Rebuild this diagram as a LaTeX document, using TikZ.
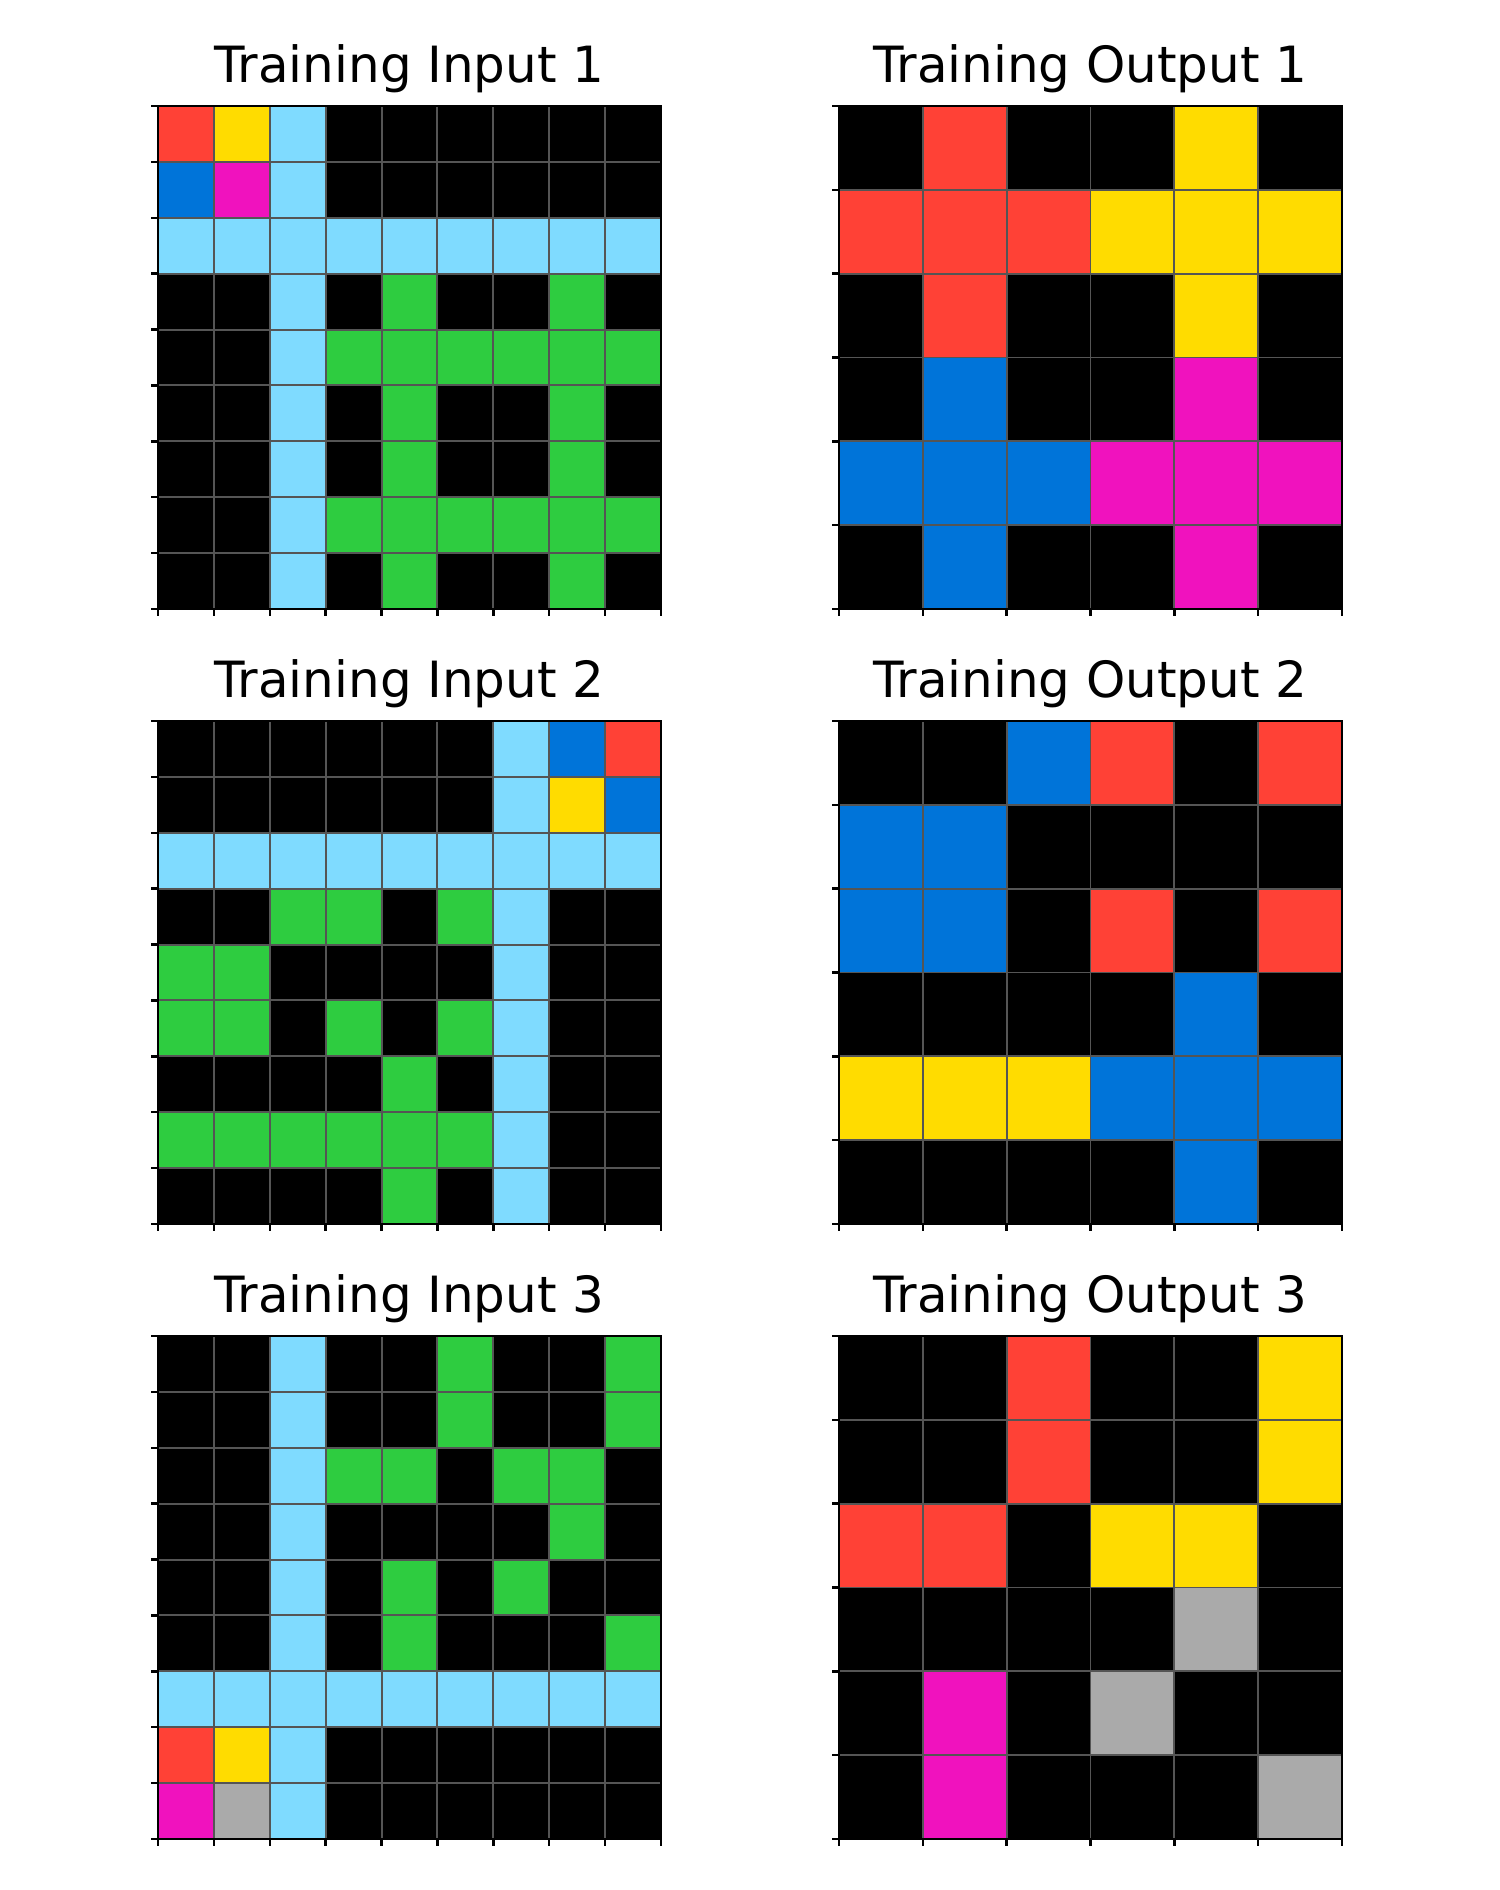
\documentclass[tikz,border=0pt]{standalone}
\usepackage{fontspec}
\setmainfont{DejaVu Sans}
\definecolor{cK}{HTML}{000000}
\definecolor{cB}{HTML}{0074D9}
\definecolor{cR}{HTML}{FF4136}
\definecolor{cG}{HTML}{2ECC40}
\definecolor{cY}{HTML}{FFDC00}
\definecolor{cA}{HTML}{AAAAAA}
\definecolor{cM}{HTML}{F012BE}
\definecolor{cC}{HTML}{7FDBFF}
\definecolor{gridgray}{HTML}{555555}
\tikzset{
  gridline/.style={draw=gridgray, line width=0.55pt},
  tickline/.style={draw=black, line width=0.7pt},
  framebox/.style={draw=black, line width=0.8pt},
  titletext/.style={anchor=base, inner sep=0pt, font=\fontsize{14.2}{17}\selectfont}
}
\newcommand{\arcgrid}[5]{%
  \pgfmathsetmacro{\arccell}{#4/#3}%
  \foreach \grow [count=\gi from 0] in {#5}{%
    \foreach \gcol [count=\gj from 0] in \grow {%
      \fill[c\gcol] ({#1+\gj*\arccell},{#2+\gi*\arccell}) rectangle ++(\arccell,\arccell);
    }%
  }%
  \foreach \gk in {0,...,#3}{%
    \draw[gridline] ({#1+\gk*\arccell},#2) -- ++(0,#4);
    \draw[gridline] (#1,{#2+\gk*\arccell}) -- ++(#4,0);
    \draw[tickline] ({#1+\gk*\arccell},{#2+#4}) -- ++(0,7);
    \draw[tickline] (#1,{#2+\gk*\arccell}) -- ++(-7,0);
  }%
  \draw[framebox] (#1,#2) rectangle ++(#4,#4);
}
\begin{document}
\begin{tikzpicture}[x=0.01cm, y=-0.01cm]
\fill[white] (0,0) rectangle (1500,1890);
\useasboundingbox (0,0) rectangle (1500,1890);

% Row 1
\node[titletext] (ti1) at (409.5,82) {Training Input 1};
\node[titletext] (to1) at (1090.5,82) {Training Output 1};
\arcgrid{158}{106}{9}{503}{
 {R,Y,C,K,K,K,K,K,K},
 {B,M,C,K,K,K,K,K,K},
 {C,C,C,C,C,C,C,C,C},
 {K,K,C,K,G,K,K,G,K},
 {K,K,C,G,G,G,G,G,G},
 {K,K,C,K,G,K,K,G,K},
 {K,K,C,K,G,K,K,G,K},
 {K,K,C,G,G,G,G,G,G},
 {K,K,C,K,G,K,K,G,K}}
\arcgrid{839}{106}{6}{503}{
 {K,R,K,K,Y,K},
 {R,R,R,Y,Y,Y},
 {K,R,K,K,Y,K},
 {K,B,K,K,M,K},
 {B,B,B,M,M,M},
 {K,B,K,K,M,K}}

% Row 2
\node[titletext] (ti2) at (409.5,697) {Training Input 2};
\node[titletext] (to2) at (1090.5,697) {Training Output 2};
\arcgrid{158}{721}{9}{503}{
 {K,K,K,K,K,K,C,B,R},
 {K,K,K,K,K,K,C,Y,B},
 {C,C,C,C,C,C,C,C,C},
 {K,K,G,G,K,G,C,K,K},
 {G,G,K,K,K,K,C,K,K},
 {G,G,K,G,K,G,C,K,K},
 {K,K,K,K,G,K,C,K,K},
 {G,G,G,G,G,G,C,K,K},
 {K,K,K,K,G,K,C,K,K}}
\arcgrid{839}{721}{6}{503}{
 {K,K,B,R,K,R},
 {B,B,K,K,K,K},
 {B,B,K,R,K,R},
 {K,K,K,K,B,K},
 {Y,Y,Y,B,B,B},
 {K,K,K,K,B,K}}

% Row 3
\node[titletext] (ti3) at (409.5,1312) {Training Input 3};
\node[titletext] (to3) at (1090.5,1312) {Training Output 3};
\arcgrid{158}{1336}{9}{503}{
 {K,K,C,K,K,G,K,K,G},
 {K,K,C,K,K,G,K,K,G},
 {K,K,C,G,G,K,G,G,K},
 {K,K,C,K,K,K,K,G,K},
 {K,K,C,K,G,K,G,K,K},
 {K,K,C,K,G,K,K,K,G},
 {C,C,C,C,C,C,C,C,C},
 {R,Y,C,K,K,K,K,K,K},
 {M,A,C,K,K,K,K,K,K}}
\arcgrid{839}{1336}{6}{503}{
 {K,K,R,K,K,Y},
 {K,K,R,K,K,Y},
 {R,R,K,Y,Y,K},
 {K,K,K,K,A,K},
 {K,M,K,A,K,K},
 {K,M,K,K,K,A}}
\end{tikzpicture}
\end{document}
